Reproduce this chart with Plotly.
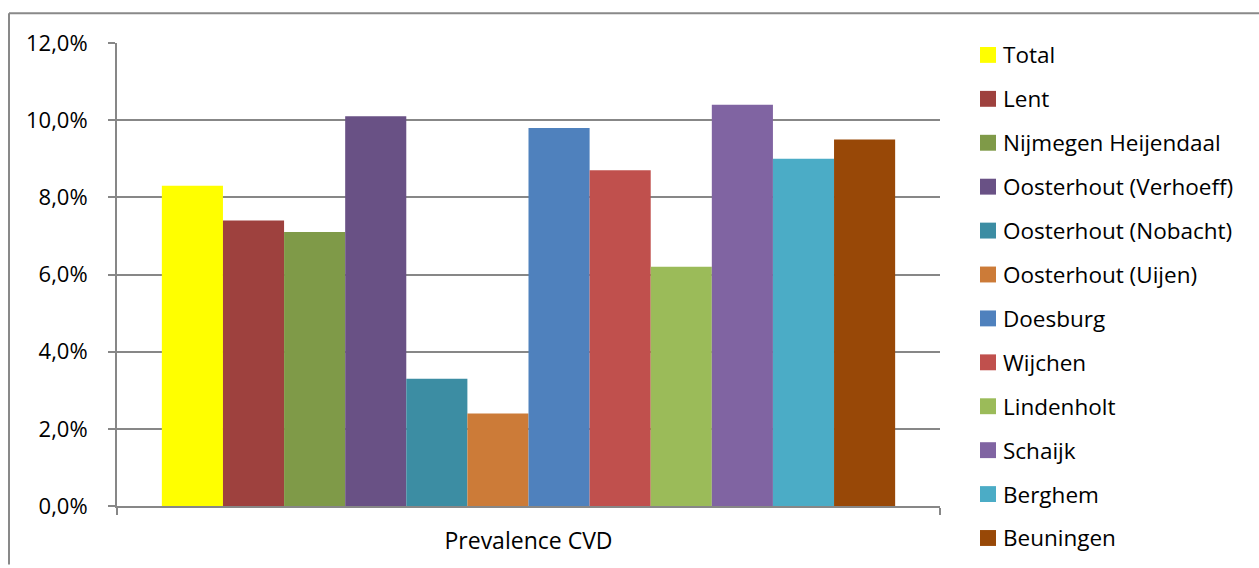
import plotly.graph_objects as go

# Prevalence of CVD per practice location
category = ["Prevalence CVD"]
locations = [
    "Total", "Lent", "Nijmegen Heijendaal", "Oosterhout (Verhoeff)",
    "Oosterhout (Nobacht)", "Oosterhout (Uijen)", "Doesburg", "Wijchen",
    "Lindenholt", "Schaijk", "Berghem", "Beuningen",
]
prevalence = [0.083, 0.074, 0.071, 0.101, 0.033, 0.024, 0.098, 0.087,
              0.062, 0.104, 0.090, 0.095]
colors = ["#FFFF00", "#9E413E", "#7F9A48", "#695185", "#3C8DA3", "#CC7B38",
          "#4F81BD", "#C0504D", "#9BBB59", "#8064A2", "#4BACC6", "#984807"]
y_ticks = [0.0, 0.02, 0.04, 0.06, 0.08, 0.10, 0.12]

FONT = "Open Sans"
GRID = "#878787"

W, H = 1259, 568
ML, MR, MT, MB = 117, 319, 43, 59
PW, PH = W - ML - MR, H - MT - MB


def px_x(px):
    return (px - ML) / PW


def px_y(py):
    return (H - MB - py) / PH


fig = go.Figure()
for name, val, col in zip(locations, prevalence, colors):
    fig.add_trace(go.Bar(
        x=category, y=[val], name=name, marker_color=col,
        marker_line_width=0, showlegend=False,
    ))

# Chart frame: top and left edges (the rest runs past the canvas)
frame = dict(color="#898989", width=2)
shapes = [
    dict(type="line", xref="paper", yref="paper",
         x0=px_x(9), x1=px_x(W), y0=px_y(13), y1=px_y(13), line=frame),
    dict(type="line", xref="paper", yref="paper",
         x0=px_x(9), x1=px_x(9), y0=px_y(13), y1=px_y(H), line=frame),
]

# Legend drawn as swatches + labels to the right of the plot area
annotations = []
ROW0, STEP = 55, 44.2
for i, (name, col) in enumerate(zip(locations, colors)):
    cy = ROW0 + STEP * i
    shapes.append(dict(
        type="rect", xref="paper", yref="paper",
        x0=px_x(980), x1=px_x(996), y0=px_y(cy + 8), y1=px_y(cy - 8),
        fillcolor=col, line=dict(width=0),
    ))
    annotations.append(dict(
        xref="paper", yref="paper", x=px_x(1001), y=px_y(cy),
        xanchor="left", yanchor="middle", text=name, showarrow=False,
        font=dict(family=FONT, size=22.5, color="black"),
    ))

fig.update_layout(
    width=W, height=H,
    margin=dict(l=ML, r=MR, t=MT, b=MB),
    paper_bgcolor="white", plot_bgcolor="white",
    separators=",.",
    barmode="group", bargap=0.109, bargroupgap=0,
    font=dict(family=FONT, size=22, color="black"),
    showlegend=False,
    xaxis=dict(
        showline=True, linecolor=GRID, linewidth=2,
        ticks="outside", tickson="boundaries", ticklen=7,
        tickcolor=GRID, tickwidth=2, ticklabelstandoff=13,
        tickfont=dict(family=FONT, size=23),
    ),
    yaxis=dict(
        range=[0, 0.12], tickvals=y_ticks, tickformat=".1%",
        showgrid=True, gridcolor=GRID, gridwidth=2,
        showline=True, linecolor=GRID, linewidth=2,
        ticks="outside", ticklen=7, tickcolor=GRID, tickwidth=2,
        ticklabelstandoff=16, zeroline=False,
        tickfont=dict(family=FONT, size=22),
    ),
    shapes=shapes,
    annotations=annotations,
)

fig.write_html("out.html")
